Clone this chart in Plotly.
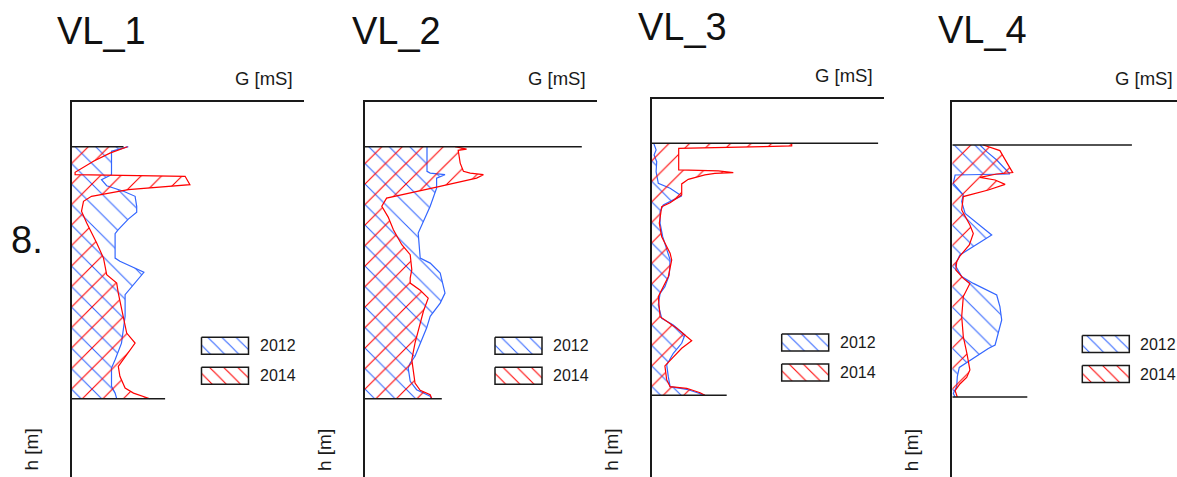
import plotly.graph_objects as go

W, H = 1177, 477
PX_PER_MS = 4.0      # horizontal scale of every panel, px per mS
PX_PER_M = 20.0      # vertical scale of every panel, px per m
PANEL_W = 232        # width of the G axis line, px

sites = ["VL_1", "VL_2", "VL_3", "VL_4"]
years = ["2012", "2014"]
series_label = "8."
h_max = 12.6         # depth of the profile base, m

# ---- conductivity profiles: depth h [m] and G [mS] ----
depth_vl1_2012 = [0, 0.23, 1.4, 1.65, 1.95, 2.23, 2.48, 2.98, 3.28, 3.62, 4.15, 4.35, 5.57, 5.73, 6.28,
                  7.4, 8.48, 9.23, 9.82, 10.65, 11.07, 11.98, 12.32, 12.6]
g_vl1_2012 = [14.2, 10.0, 10.0, 7.5, 8.8, 13.0, 15.9, 16.3, 16.3, 14.2, 11.7, 10.9, 10.9, 12.1, 18.1,
              13.4, 13.4, 13.0, 12.5, 10.9, 10.0, 10.0, 10.9, 11.3]
depth_vl1_2014 = [0, 0.32, 0.73, 1.28, 1.4, 1.48, 1.9, 2.15, 2.48, 2.73, 3.23, 3.82, 4.82, 5.57, 6.4,
                  6.82, 7.32, 8.65, 9.32, 9.82, 10.48, 10.98, 11.48, 12.07, 12.32, 12.6]
g_vl1_2014 = [14.0, 9.6, 5.5, 0.9, 0.9, 28.4, 29.6, 14.2, 5.0, 3.0, 2.5, 3.8, 6.3, 8.0, 8.8,
              11.3, 11.7, 13.0, 13.8, 15.9, 13.4, 11.7, 12.1, 13.4, 15.5, 19.6]

depth_vl2_2012 = [0, 1.23, 1.32, 1.4, 1.57, 2.07, 2.98, 4.15, 4.32, 5.57, 5.82, 6.32, 7.32, 7.82, 8.48,
                  9.07, 9.82, 10.48, 10.82, 11.07, 11.73, 12.15, 12.48, 12.6]
g_vl2_2012 = [15.5, 15.5, 16.3, 20.0, 17.9, 17.9, 16.3, 13.8, 13.3, 13.8, 16.3, 18.8, 20.0, 18.8, 16.3,
              15.4, 13.8, 12.5, 11.3, 10.8, 11.3, 12.9, 16.3, 16.7]
depth_vl2_2014 = [0, 0.12, 0.18, 0.82, 1.23, 1.32, 1.4, 1.57, 2.02, 2.57, 2.98, 3.52, 4.15, 4.9, 5.4,
                  6.15, 6.57, 6.82, 7.18, 7.57, 8.23, 8.82, 9.15, 9.82, 10.65, 11.15, 11.82, 12.18, 12.4, 12.6]
g_vl2_2014 = [22.5, 25.4, 23.3, 23.8, 24.6, 26.3, 29.6, 27.9, 17.9, 5.4, 4.2, 5.8, 7.1, 9.2, 11.3,
              11.7, 11.3, 11.3, 13.8, 15.8, 14.6, 13.8, 13.3, 12.5, 11.7, 12.1, 12.5, 13.8, 16.3, 16.7]

depth_vl3_2012 = [0, 0.33, 0.58, 0.92, 1.42, 2.0, 2.25, 2.63, 2.83, 3.08, 3.42, 4.0, 4.67, 5.25, 5.83,
                  6.58, 7.17, 7.5, 8.08, 8.75, 9.08, 9.58, 10.0, 10.5, 11.08, 11.67, 12.17, 12.3, 12.47, 12.6]
g_vl3_2012 = [0.5, 1.1, 0.6, 1.25, 1.1, 1.65, 4.6, 7.5, 5.4, 2.9, 2.1, 2.1, 2.75, 3.75, 4.6,
              4.4, 3.3, 2.1, 1.65, 2.5, 5.4, 8.3, 7.5, 5.4, 3.75, 4.15, 4.6, 8.75, 11.65, 13.3]
depth_vl3_2014 = [0, 0.13, 0.17, 0.2, 0.25, 1.33, 1.34, 1.38, 1.47, 1.5, 1.58, 1.8, 2.03, 2.58, 2.97,
                  3.17, 4.0, 4.67, 5.5, 5.83, 6.67, 7.33, 7.67, 8.67, 9.25, 9.87, 10.25, 11.13, 11.83,
                  12.17, 12.25, 12.47, 12.6]
g_vl3_2014 = [35.0, 35.0, 27.9, 13.75, 6.75, 6.75, 10.0, 16.65, 20.4, 15.8, 13.3, 9.15, 7.5, 7.5, 4.6,
              2.5, 1.9, 2.5, 4.6, 5.0, 4.15, 2.5, 1.65, 2.1, 6.25, 10.0, 7.5, 3.3, 3.75,
              4.6, 8.75, 12.1, 13.3]

depth_vl4_2012 = [0, 0.33, 0.75, 1.33, 1.45, 1.5, 1.92, 2.5, 2.83, 3.42, 4.5, 5.5, 6.0, 6.58, 6.92,
                  7.5, 8.08, 8.75, 9.42, 10.0, 10.17, 10.75, 11.12, 11.58, 12.08, 12.42, 12.6]
g_vl4_2012 = [6.9, 8.6, 11.1, 14.0, 14.4, 0.7, 0.25, 2.75, 2.35, 3.2, 9.85, 1.9, 0.7, 2.35, 5.25,
              11.1, 11.9, 12.35, 11.5, 10.7, 9.0, 4.4, 1.75, 1.25, 1.1, 0.25, 0.7]
depth_vl4_2014 = [0, 0.28, 0.92, 1.38, 1.45, 1.62, 1.75, 1.97, 2.25, 2.37, 2.58, 3.25, 4.0, 4.42, 5.0,
                  5.55, 5.83, 6.25, 6.67, 6.92, 7.58, 8.58, 9.58, 10.42, 11.25, 11.62, 11.95, 12.28, 12.6]
g_vl4_2014 = [7.75, 11.9, 13.75, 15.1, 11.1, 6.9, 10.7, 13.2, 9.0, 6.5, 2.75, 2.35, 4.4, 5.25, 4.25,
              1.9, 1.1, 0.9, 2.75, 4.4, 2.75, 2.35, 2.75, 3.65, 4.4, 3.6, 1.9, 0.7, 1.25]

# extent of the black surface (h = 0) and base (h = h_max) lines, mS
top_line_g = [13.0, 54.2, 56.6, 44.9]
base_line_g = [23.4, 19.2, 18.75, 18.75]

profiles = {
    ("VL_1", "2012"): (depth_vl1_2012, g_vl1_2012),
    ("VL_1", "2014"): (depth_vl1_2014, g_vl1_2014),
    ("VL_2", "2012"): (depth_vl2_2012, g_vl2_2012),
    ("VL_2", "2014"): (depth_vl2_2014, g_vl2_2014),
    ("VL_3", "2012"): (depth_vl3_2012, g_vl3_2012),
    ("VL_3", "2014"): (depth_vl3_2014, g_vl3_2014),
    ("VL_4", "2012"): (depth_vl4_2012, g_vl4_2012),
    ("VL_4", "2014"): (depth_vl4_2014, g_vl4_2014),
}

BLUE = "rgb(51,102,255)"
RED = "rgb(255,0,0)"
INK = "#1a1a1a"
FONT = "Liberation Sans, Arial, sans-serif"
style = {
    "2012": dict(color=BLUE, hatch="\\"),
    "2014": dict(color=RED, hatch="/"),
}

# ---- panel geometry in page pixels ----
panel_left = [71.5, 365.0, 651.7, 952.3]
axis_top = [102.0, 102.0, 99.3, 102.0]
data_top = [146.7, 146.7, 143.3, 145.0]
title_pos = [(55, 31), (349.5, 31), (636, 27), (936, 29.5)]


def px(x):
    return x / W


def py(y):
    return 1 - y / H


def hatch(shape, size, solidity, color):
    return dict(shape=shape, size=size, solidity=solidity, fillmode="replace",
                fgcolor=color, fgopacity=1, bgcolor="rgba(255,255,255,0)")


fig = go.Figure()
annotations = []

for i, site in enumerate(sites):
    xa = "x" if i == 0 else f"x{i + 1}"
    ya = "y" if i == 0 else f"y{i + 1}"
    left = panel_left[i]
    right = min(left + PANEL_W, W)
    g_max = (right - left) / PX_PER_MS
    h_top = -(data_top[i] - axis_top[i]) / PX_PER_M
    h_bottom = (H - data_top[i]) / PX_PER_M

    axis_common = dict(showline=True, linecolor=INK, linewidth=1.5, showgrid=False,
                       zeroline=False, showticklabels=False, ticks="", fixedrange=True)
    fig.update_layout({
        ("xaxis" if i == 0 else f"xaxis{i + 1}"): dict(
            domain=[px(left), px(right)], range=[0, g_max], side="top",
            anchor=ya, **axis_common),
        ("yaxis" if i == 0 else f"yaxis{i + 1}"): dict(
            domain=[0, py(axis_top[i])], range=[h_bottom, h_top],
            anchor=xa, **axis_common),
    })

    # hatched conductivity profiles
    for year in years:
        depth, g = profiles[(site, year)]
        st = style[year]
        fig.add_trace(go.Scatter(
            x=g, y=depth, xaxis=xa, yaxis=ya, mode="lines",
            line=dict(color=st["color"], width=1.2),
            fill="tozerox", fillcolor=st["color"],
            fillpattern=hatch(st["hatch"], 14.5, 0.075, st["color"]),
            hoverinfo="skip", showlegend=False))

    # surface and base lines
    for h_line, g_end in ((0, top_line_g[i]), (h_max, base_line_g[i])):
        fig.add_trace(go.Scatter(
            x=[0, g_end], y=[h_line, h_line], xaxis=xa, yaxis=ya, mode="lines",
            line=dict(color=INK, width=1.5), hoverinfo="skip", showlegend=False))

    # legend swatches
    g0, g1 = 130 / PX_PER_MS, 177 / PX_PER_MS
    for k, year in enumerate(years):
        dy0 = 190.6 + 30 * k
        h0, h1 = dy0 / PX_PER_M, (dy0 + 17) / PX_PER_M
        fig.add_trace(go.Scatter(
            x=[g0, g1, g1, g0, g0], y=[h0, h0, h1, h1, h0], xaxis=xa, yaxis=ya,
            mode="lines", line=dict(color=INK, width=1.5),
            fill="toself", fillcolor=style[year]["color"],
            fillpattern=hatch("\\", 10, 0.11, style[year]["color"]),
            hoverinfo="skip", showlegend=False))
        annotations.append(dict(
            x=186 / PX_PER_MS, y=(h0 + h1) / 2, xref=xa, yref=ya, text=year,
            showarrow=False, xanchor="left", yanchor="middle",
            font=dict(family=FONT, size=16, color=INK)))

    # panel title, axis titles
    tx, ty = title_pos[i]
    annotations.append(dict(x=px(tx), y=py(ty), xref="paper", yref="paper", text=site,
                            showarrow=False, xanchor="left", yanchor="middle",
                            font=dict(family=FONT, size=38, color="#111")))
    annotations.append(dict(x=px(left + 223), y=py(axis_top[i] - 23.5), xref="paper",
                            yref="paper", text="G [mS]", showarrow=False,
                            xanchor="right", yanchor="middle",
                            font=dict(family=FONT, size=18.5, color=INK)))
    annotations.append(dict(x=px(left - 41), y=py(450), xref="paper", yref="paper",
                            text="h [m]", textangle=-90, showarrow=False,
                            xanchor="center", yanchor="middle",
                            font=dict(family=FONT, size=19, color=INK)))

annotations.append(dict(x=px(27), y=py(240), xref="paper", yref="paper", text=series_label,
                        showarrow=False, xanchor="center", yanchor="middle",
                        font=dict(family=FONT, size=38, color="#111")))

fig.update_layout(
    width=W, height=H, margin=dict(l=0, r=0, t=0, b=0),
    paper_bgcolor="white", plot_bgcolor="white",
    showlegend=False, annotations=annotations,
)

fig.write_html("out.html", config={"displayModeBar": False})
